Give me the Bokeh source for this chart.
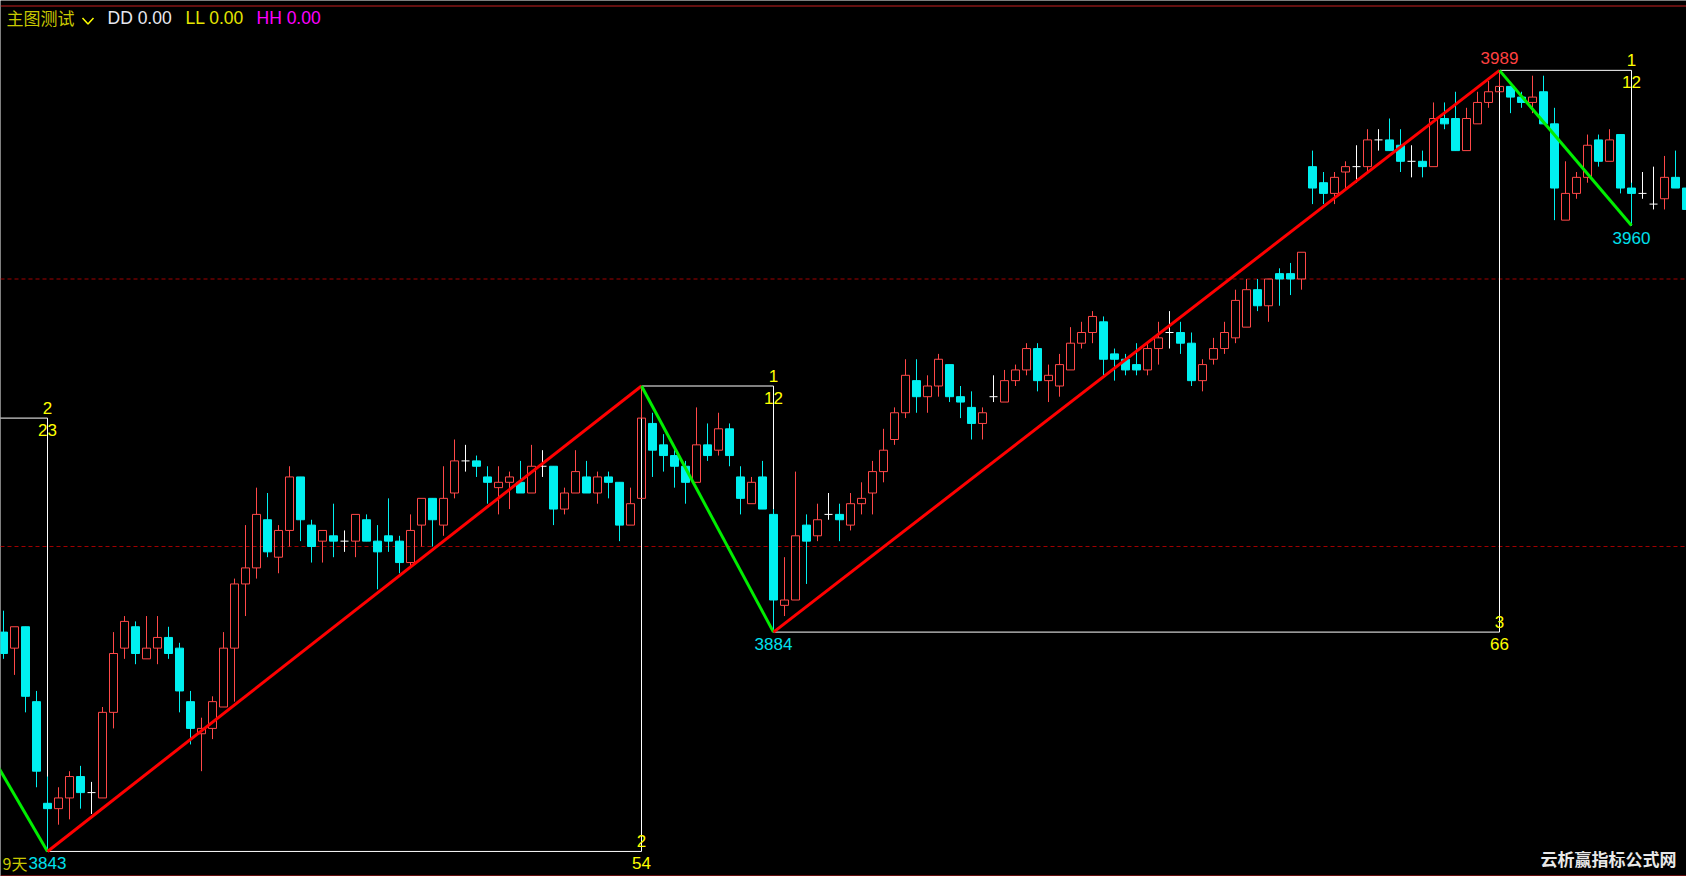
import numpy as np
from bokeh.plotting import figure
from bokeh.models import Range1d, Span
from bokeh.core.properties import value
from bokeh.embed import file_html
from bokeh.resources import INLINE

# ---------------- data ----------------
opens = [3884, 3881, 3885, 3871, 3852, 3851, 3853, 3857, 3854, 3853,
         3869, 3881, 3885, 3879, 3881, 3883, 3881, 3871, 3865, 3866,
         3870, 3881, 3893, 3896, 3905, 3898, 3903, 3913, 3904, 3901,
         3902, 3901, 3901, 3905, 3901, 3902, 3901, 3897, 3904, 3909,
         3904, 3910, 3916, 3916, 3913, 3911, 3912, 3912, 3910, 3915,
         3915, 3907, 3910, 3913, 3910, 3913, 3912, 3904, 3909, 3923,
         3919, 3917, 3915, 3912, 3919, 3918, 3922, 3913, 3908, 3913,
         3906, 3889, 3890, 3904, 3902, 3906, 3906, 3904, 3908, 3910,
         3914, 3920, 3925, 3931, 3928, 3930, 3934, 3928, 3926, 3923,
         3928, 3927, 3931, 3933, 3937, 3931, 3930, 3933, 3938, 3940,
         3942, 3936, 3935, 3934, 3933, 3937, 3940, 3940, 3938, 3931,
         3935, 3937, 3939, 3941, 3948, 3945, 3951, 3951, 3950, 3971,
         3968, 3966, 3970, 3971, 3971, 3976, 3976, 3975, 3972, 3972,
         3971, 3980, 3980, 3974, 3979, 3983, 3985, 3986, 3984, 3983,
         3985, 3979, 3961, 3966, 3969, 3976, 3972, 3977, 3967, 3966,
         3964, 3965, 3969, 3967]
highs = [3888, 3885, 3885, 3873, 3857, 3855, 3858, 3859, 3856, 3870,
         3884, 3887, 3886, 3887, 3887, 3885, 3882, 3873, 3868, 3872,
         3884, 3894, 3904, 3911, 3910, 3904, 3915, 3913, 3905, 3903,
         3908, 3903, 3906, 3906, 3904, 3909, 3902, 3906, 3909, 3909,
         3915, 3920, 3919, 3917, 3915, 3915, 3914, 3916, 3919, 3918,
         3915, 3911, 3918, 3916, 3914, 3914, 3912, 3911, 3930, 3925,
         3921, 3918, 3916, 3926, 3923, 3925, 3923, 3915, 3913, 3916,
         3907, 3898, 3914, 3906, 3908, 3910, 3908, 3910, 3912, 3916,
         3922, 3926, 3935, 3935, 3932, 3936, 3934, 3930, 3929, 3926,
         3932, 3933, 3934, 3938, 3938, 3934, 3936, 3941, 3942, 3944,
         3943, 3937, 3936, 3938, 3938, 3942, 3944, 3942, 3940, 3935,
         3939, 3942, 3948, 3950, 3950, 3950, 3952, 3953, 3955, 3974,
         3970, 3970, 3972, 3975, 3978, 3978, 3980, 3978, 3975, 3974,
         3983, 3983, 3985, 3982, 3985, 3987, 3989, 3986, 3985, 3988,
         3988, 3982, 3972, 3970, 3977, 3977, 3978, 3977, 3968, 3970,
         3971, 3973, 3974, 3967]
lows = [3879, 3876, 3869, 3855, 3843, 3848, 3849, 3851, 3850, 3853,
        3866, 3879, 3878, 3879, 3878, 3879, 3869, 3863, 3858, 3864,
        3870, 3871, 3887, 3894, 3898, 3895, 3900, 3901, 3897, 3897,
        3898, 3899, 3898, 3901, 3892, 3899, 3895, 3896, 3900, 3900,
        3902, 3909, 3914, 3913, 3908, 3906, 3907, 3910, 3910, 3913,
        3904, 3906, 3910, 3910, 3908, 3909, 3901, 3904, 3909, 3913,
        3914, 3911, 3908, 3912, 3916, 3917, 3915, 3906, 3908, 3907,
        3884, 3887, 3890, 3893, 3901, 3905, 3901, 3903, 3906, 3906,
        3912, 3919, 3924, 3925, 3925, 3928, 3927, 3924, 3920, 3920,
        3927, 3927, 3930, 3932, 3929, 3927, 3928, 3933, 3937, 3938,
        3932, 3931, 3932, 3932, 3932, 3934, 3937, 3936, 3930, 3929,
        3934, 3936, 3938, 3941, 3944, 3942, 3945, 3947, 3948, 3964,
        3964, 3964, 3967, 3968, 3970, 3974, 3974, 3970, 3969, 3969,
        3971, 3978, 3974, 3974, 3979, 3982, 3985, 3981, 3982, 3981,
        3979, 3961, 3961, 3965, 3968, 3971, 3972, 3966, 3960, 3965,
        3963, 3963, 3967, 3963]
closes = [3880, 3885, 3872, 3858, 3851, 3853, 3857, 3854, 3854, 3869,
          3880, 3886, 3880, 3881, 3883, 3880, 3873, 3866, 3866, 3871,
          3881, 3893, 3896, 3906, 3899, 3903, 3913, 3905, 3900, 3903,
          3901, 3901, 3906, 3901, 3899, 3901, 3897, 3903, 3909, 3905,
          3909, 3916, 3916, 3915, 3912, 3912, 3913, 3910, 3915, 3915,
          3907, 3910, 3914, 3910, 3913, 3912, 3904, 3908, 3924, 3918,
          3917, 3915, 3912, 3919, 3917, 3922, 3917, 3909, 3912, 3907,
          3890, 3890, 3902, 3901, 3905, 3906, 3905, 3908, 3909, 3914,
          3918, 3925, 3932, 3928, 3930, 3935, 3928, 3927, 3923, 3925,
          3928, 3931, 3933, 3937, 3931, 3932, 3934, 3938, 3940, 3943,
          3935, 3935, 3933, 3933, 3937, 3939, 3940, 3938, 3931, 3934,
          3937, 3940, 3946, 3948, 3945, 3950, 3950, 3950, 3955, 3967,
          3966, 3969, 3971, 3971, 3976, 3976, 3974, 3972, 3972, 3971,
          3980, 3979, 3974, 3980, 3983, 3985, 3986, 3984, 3983, 3984,
          3979, 3967, 3966, 3969, 3975, 3972, 3976, 3967, 3966, 3966,
          3964, 3969, 3967, 3963]

pivot_idx = [-19, 4, 58, 70, 136, 148]
pivot_val = [3924, 3843, 3930, 3884, 3989, 3960]
leg_tags = ["2", "2", "1", "3", "1"]
price_label_pivots = [1, 3, 4, 5]
grid_levels = [3900, 3950]
header_title = "主图测试"
header_items = ["DD 0.00", "LL 0.00", "HH 0.00"]
day_label = "9天"
watermark = "云析赢指标公式网"

# ---------------- geometry ----------------
W, H = 1686, 876
PX_BAR = 11.0                  # pixels per bar
X0 = -3.0 / PX_BAR
X1 = X0 + W / PX_BAR
PX_PT = 5.35                   # pixels per price point
Y1 = 3900 + 546 / PX_PT
Y0 = Y1 - H / PX_PT


def sx(px):
    return X0 + px / PX_BAR


def sy(py):
    return Y1 - py / PX_PT


RED = "#ff4848"
CYAN = "#00f0f0"
WHITE = "#ffffff"
YEL = "#ffff00"

p = figure(width=W, height=H, x_range=Range1d(X0, X1), y_range=Range1d(Y0, Y1),
           output_backend="svg", toolbar_location=None,
           x_axis_location=None, y_axis_location=None,
           background_fill_color="black", border_fill_color="black",
           min_border=0, outline_line_color=None)
p.grid.visible = False

# frame lines and dashed levels
for yy in (sy(5.5), sy(875.5)):
    p.add_layout(Span(location=yy, dimension="width", line_color="#c82020",
                      line_width=1, level="underlay"))
for g in grid_levels:
    p.add_layout(Span(location=g, dimension="width", line_color="#a00000",
                      line_width=1, line_dash="4 3", level="underlay"))

# boxes (drawn behind candles)
pi = np.array(pivot_idx, dtype=float)
pv = np.array(pivot_val, dtype=float)
p.segment(x0=pi[:-1], y0=pv[:-1], x1=pi[1:], y1=pv[:-1], color=WHITE, line_width=1)
p.segment(x0=pi[1:], y0=pv[:-1], x1=pi[1:], y1=pv[1:], color=WHITE, line_width=1)

# candles
o = np.array(opens, dtype=float)
h = np.array(highs, dtype=float)
l = np.array(lows, dtype=float)
c = np.array(closes, dtype=float)
idx = np.arange(len(o), dtype=float)
up = c > o
dn = c < o
dj = c == o
BW = 8.0 / PX_BAR
HW = 4.0 / PX_BAR

# up candles: hollow red, wick outside the body
p.segment(x0=idx[up], y0=c[up], x1=idx[up], y1=h[up], color=RED, line_width=1)
p.segment(x0=idx[up], y0=l[up], x1=idx[up], y1=o[up], color=RED, line_width=1)
p.vbar(x=idx[up], width=BW, top=c[up], bottom=o[up], fill_color=None,
       line_color=RED, line_width=1)
# down candles: filled cyan
p.segment(x0=idx[dn], y0=l[dn], x1=idx[dn], y1=h[dn], color=CYAN, line_width=1)
p.vbar(x=idx[dn], width=BW, top=o[dn], bottom=c[dn], fill_color=CYAN,
       line_color=CYAN, line_width=1)
# doji: white cross
p.segment(x0=idx[dj], y0=l[dj], x1=idx[dj], y1=h[dj], color=WHITE, line_width=1)
p.segment(x0=idx[dj] - HW, y0=o[dj], x1=idx[dj] + HW, y1=o[dj], color=WHITE, line_width=1)

# zigzag
leg_up = pv[1:] > pv[:-1]
leg_colors = np.where(leg_up, "#ff0000", "#00ee00")
p.segment(x0=pi[:-1], y0=pv[:-1], x1=pi[1:], y1=pv[1:], color=leg_colors, line_width=3)

# leg labels (tag above / bar count below the box edge)
counts = [str(int(b - a)) for a, b in zip(pivot_idx[:-1], pivot_idx[1:])]
NUM_FONT = value("Liberation Sans")
p.text(x=pi[1:], y=pv[:-1] + 10 / PX_PT, text=leg_tags, text_color=YEL,
       text_font=NUM_FONT, text_font_size="17px", text_align="center",
       text_baseline="middle")
p.text(x=pi[1:], y=pv[:-1] - 11.5 / PX_PT, text=counts, text_color=YEL,
       text_font=NUM_FONT, text_font_size="17px", text_align="center",
       text_baseline="middle")

# pivot price labels
lx, ly, lt, lc = [], [], [], []
for k in price_label_pivots:
    is_high = (k > 0 and pivot_val[k] > pivot_val[k - 1])
    lx.append(pivot_idx[k])
    ly.append(pivot_val[k] + (12 / PX_PT if is_high else -12 / PX_PT))
    lt.append(str(pivot_val[k]))
    lc.append("#ff4040" if is_high else "#00e0ee")
p.text(x=lx, y=ly, text=lt, text_color=lc, text_font=NUM_FONT,
       text_font_size="17px", text_align="center", text_baseline="middle")

# day label just before the first price label
p.text(x=[pivot_idx[1] - 20 / PX_BAR], y=[pivot_val[1] - 12 / PX_PT], text=[day_label],
       text_color="#c8c800", text_font=value("Noto Sans CJK SC"),
       text_font_size="16px", text_align="right", text_baseline="middle")

# header
p.text(x=[sx(6)], y=[sy(17)], text=[header_title], text_color="#c8c800",
       text_font=value("Noto Sans CJK SC"), text_font_size="17px",
       text_align="left", text_baseline="middle")
p.line(x=[sx(82), sx(87.5), sx(93)], y=[sy(17.5), sy(23.5), sy(17.5)],
       line_color=YEL, line_width=1.5)
hx = [107, 185, 256]
hc = ["#e8e8f0", "#e6e600", "#ff00ff"]
p.text(x=[sx(v) for v in hx], y=[sy(17.5)] * 3, text=header_items, text_color=hc,
       text_font=NUM_FONT, text_font_size="17.5px", text_align="left",
       text_baseline="middle")

# watermark
p.text(x=[sx(1676)], y=[sy(858)], text=[watermark], text_color="#e8e8e8",
       text_font=value("Noto Sans CJK SC"), text_font_size="17px",
       text_font_style="bold", text_align="right", text_baseline="middle")

open("out.html", "w").write(file_html(p, INLINE))
